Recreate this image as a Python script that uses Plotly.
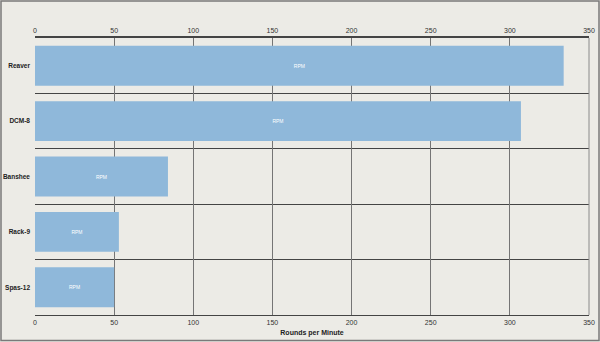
import plotly.graph_objects as go

weapons = ["Reaver", "DCM-8", "Banshee", "Rack-9", "Spas-12"]
rpm = [334, 307, 84, 53, 50]
bar_text = ["RPM", "RPM", "RPM", "RPM", "RPM"]
x_ticks = [0, 50, 100, 150, 200, 250, 300, 350]

W, H = 600, 342
ML, MR, MT, MB = 35, 11, 38, 27
BG = "#ECEBE6"
FONT = "Liberation Sans, Arial, sans-serif"

fig = go.Figure()
fig.add_trace(go.Bar(
    y=weapons, x=rpm, orientation="h",
    marker=dict(color="#8FB8DA", line=dict(width=0)),
    width=0.72,
    text=bar_text, textposition="inside", insidetextanchor="middle",
    textfont=dict(color="white", size=5, family=FONT),
    textangle=0,
    hoverinfo="x+y",
))
# invisible trace for the top axis
fig.add_trace(go.Scatter(x=[0, 350], y=[weapons[0], weapons[0]], xaxis="x2",
                         mode="markers", marker=dict(opacity=0), hoverinfo="skip",
                         showlegend=False))

axis_common = dict(range=[0, 350], tickvals=x_ticks,
                   tickfont=dict(size=7, color="#333", family=FONT),
                   showgrid=True, gridcolor="#757575", gridwidth=1,
                   zeroline=False, ticks="", fixedrange=True, automargin=False)

fig.update_layout(
    width=W, height=H,
    margin=dict(l=ML, r=MR, t=MT, b=MB),
    paper_bgcolor=BG, plot_bgcolor=BG,
    showlegend=False, bargap=0.28,
    font=dict(family=FONT),
    xaxis=dict(**axis_common, side="bottom",
               showline=True, linecolor="#444", linewidth=1.2, mirror=False,
               title=dict(text="<b>Rounds per Minute</b>",
                          font=dict(size=7, color="#222", family=FONT), standoff=5)),
    xaxis2=dict(**axis_common, side="top", overlaying="x", matches="x",
                showline=True, linecolor="#444", linewidth=1.5),
    yaxis=dict(categoryorder="array", categoryarray=weapons[::-1],
               tickson="boundaries", showgrid=True, gridcolor="#444444", gridwidth=1.2,
               tickfont=dict(size=6.5, color="#222", family=FONT, weight="bold"),
               ticks="", ticklabelstandoff=4, showline=False, fixedrange=True,
               automargin=False),
)

# right border of plot area and outer frame
fig.add_shape(type="line", xref="paper", yref="paper", x0=1, x1=1, y0=0, y1=1,
              line=dict(color="#8A8A8A", width=1))
pw, ph = W - ML - MR, H - MT - MB
fig.add_shape(type="rect", xref="paper", yref="paper",
              x0=-(ML - 1) / pw, x1=1 + (MR - 1) / pw,
              y0=-(MB - 1.5) / ph, y1=1 + (MT - 1) / ph,
              line=dict(color="#7A7A7A", width=1.5), layer="below")

fig.write_html("out.html")
